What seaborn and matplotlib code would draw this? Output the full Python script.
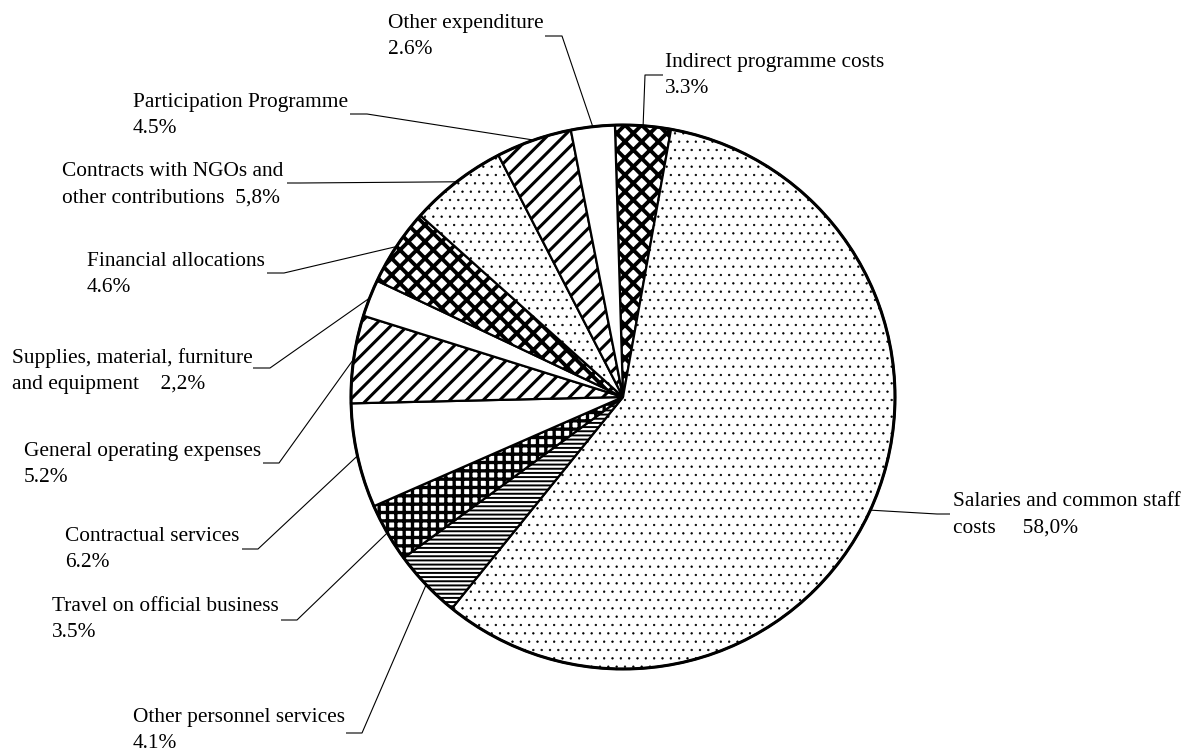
import numpy as np
import seaborn as sns
import matplotlib.pyplot as plt

# Budget shares (clockwise from the top)
categories = [
    "Indirect programme costs",
    "Salaries and common staff costs",
    "Other personnel services",
    "Travel on official business",
    "Contractual services",
    "General operating expenses",
    "Supplies, material, furniture and equipment",
    "Financial allocations",
    "Contracts with NGOs and other contributions",
    "Participation Programme",
    "Other expenditure",
]
shares = [3.3, 58.0, 4.1, 3.5, 6.2, 5.2, 2.2, 4.6, 5.8, 4.5, 2.6]
label_texts = [
    "Indirect programme costs\n3.3%",
    "Salaries and common staff\ncosts     58,0%",
    "Other personnel services\n4.1%",
    "Travel on official business\n3.5%",
    "Contractual services\n6.2%",
    "General operating expenses\n5.2%",
    "Supplies, material, furniture\nand equipment    2,2%",
    "Financial allocations\n4.6%",
    "Contracts with NGOs and\nother contributions  5,8%",
    "Participation Programme\n4.5%",
    "Other expenditure\n2.6%",
]

# fill patterns: (hatch, hatch linewidth in pt)
patterns = [
    ("xx", 2.8), ("..", 0.45), ("----", 1.4), ("++", 2.4), ("", 1.0),
    ("//", 2.2), ("", 1.0), ("xx", 2.8), ("..", 0.45), ("//", 2.2), ("", 1.0),
]

# label layout in pixels: text left x, first baseline y, leader shelf (x_text, x_elbow, y)
label_x = [665, 953, 133, 52, 65, 24, 12, 87, 62, 133, 388]
label_base = [68, 507, 723, 612, 542, 457, 363, 267, 177, 108, 29]
shelves = [
    (663, 645, 75), (950, 937, 514), (346, 362, 733), (281, 297, 620),
    (242, 258, 549), (263, 279, 463), (253, 270, 368), (267, 284, 273),
    (287, 300, 183), (350, 367, 114), (545, 562, 36),
]

W, H = 1183, 754
CX, CY, R = 623, 397, 272
FS = 15.4


def px(x, y):
    return (x - CX) / R, (CY - y) / R


sns.set_theme(style="white")
plt.rcParams["font.family"] = ["Liberation Serif", "DejaVu Serif"]

fig = plt.figure(figsize=(W / 100, H / 100), dpi=100)
ax = fig.add_axes([0, 0, 1, 1])

wedges, _ = ax.pie(
    shares,
    colors=["white"] * len(shares),
    startangle=91.7,
    counterclock=False,
    radius=1,
    wedgeprops=dict(edgecolor="black", linewidth=1.6),
)
for w, (h, lw) in zip(wedges, patterns):
    w.set_hatch(h)
    if hasattr(w, "set_hatch_linewidth"):
        w.set_hatch_linewidth(lw)
    else:
        w._hatch_linewidth = lw

# outer rim a bit heavier
ax.add_patch(plt.Circle((0, 0), 1, fill=False, edgecolor="black", linewidth=2.2))

for w, txt, tx, tb, (xa, xb, sy) in zip(wedges, label_texts, label_x, label_base, shelves):
    mid = np.deg2rad((w.theta1 + w.theta2) / 2)
    ax_, ay_ = np.cos(mid), np.sin(mid)
    p1 = px(xa, sy)
    p2 = px(xb, sy)
    ax.plot([p1[0], p2[0], ax_], [p1[1], p2[1], ay_], color="black", linewidth=0.8,
            solid_capstyle="butt")
    ttop = px(tx, tb - 0.69 * FS * 100 / 72)
    ax.text(ttop[0], ttop[1], txt, ha="left", va="top", fontsize=FS,
            linespacing=1.5, color="black")

ax.set_xlim(-CX / R, (W - CX) / R)
ax.set_ylim(-(H - CY) / R, CY / R)
ax.set_aspect("equal")
ax.axis("off")

fig.savefig("out.png", dpi=100, facecolor="white")
